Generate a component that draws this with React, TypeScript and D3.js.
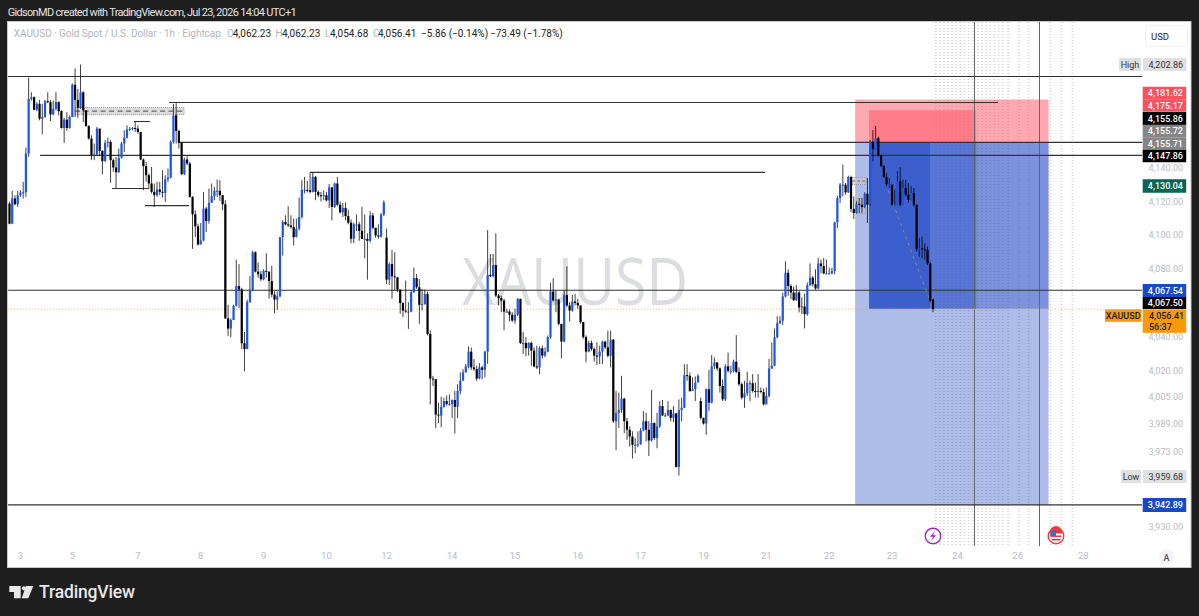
// XAUUSD 1h chart, drawn as JSX with d3 scales
import React from 'react';
import * as d3 from 'd3';

const closes = [
  4107,4122,4118.6,4124,4125.6,4125.8,4149,4182,4183,4175.4,
  4179,4170,4171,4180.6,4180,4172.6,4176,4180,4174.6,4164.4,
  4169.4,4164.4,4171,4190.6,4181.4,4176.6,4186,4175,4165.6,4158,
  4148,4148.4,4164,4150.6,4144.4,4155.4,4156,4145,4140.6,4137.8,
  4146.4,4155,4158.6,4163.4,4163.8,4164.4,4164,4162,4145.4,4141.4,
  4136,4131,4126,4124,4127.4,4126,4125.4,4133.6,4134.6,4156,
  4172,4162.6,4155.4,4136.6,4145.4,4143,4123,4112.6,4105.4,4094.6,
  4097,4116,4108.6,4119.4,4123.4,4126.6,4126.6,4124,4118.6,4051,
  4045,4050,4058.4,4070,4068,4036.4,4033,4060.6,4067.4,4090,
  4078.6,4077,4074,4079,4078.6,4073,4065,4062,4064,4099,
  4108,4106.6,4106,4105,4099,4104,4111,4127.2,4127.2,4127,
  4126,4135,4126,4124,4123.6,4124,4120.9,4128.7,4117,4131,
  4118.3,4113.8,4116.4,4111.5,4107.6,4098,4106.6,4106.6,4102.7,4098,
  4098,4096.8,4111.9,4104.6,4100,4099.3,4112.5,4119.7,4073.8,4083,
  4075.8,4075.2,4068,4060,4055.6,4055,4055,4066.4,4074.8,4069.3,
  4059,4059.5,4065.4,4041.9,4015.8,4015.4,3994.9,3994.3,3999.4,4002.7,
  4001,4001,4003.3,3999.4,4008.6,4014.5,4019.4,4022.9,4031.5,4022.3,
  4021.3,4015.8,4022.3,4020.9,4031.5,4076.6,4075.8,4082.5,4064.4,4062.9,
  4061.5,4055,4055,4053.1,4049.7,4053.1,4062.5,4036.6,4036.6,4033.5,
  4036.6,4032.1,4022.9,4022.3,4033.5,4029.2,4031.5,4040,4066.8,4061.5,
  4062.1,4047.8,4037.4,4064.8,4058.6,4055.6,4060.9,4060.1,4058.6,4048.8,
  4040,4031.5,4036.6,4033.1,4029.2,4028.8,4031.5,4037.3,4034,4029.1,
  4038.5,3991,3995.9,3997.5,4004.1,3991,3986.1,3982.2,3977.4,3977.4,
  3977.7,3985.7,3991,3986.1,3979.9,3990,3981.3,3988.1,3999.8,3994.4,
  3994.4,3997.5,3993,3995.5,3964.7,3997.5,3998.8,4017.8,4017.4,4008.6,
  4009.6,4013.5,4017.4,3993,3989.7,4009.6,4001.8,4022.9,4025.2,4021.7,
  4011.5,4003.7,4022.9,4020.3,4020.3,4025.6,4019.7,4012.5,4004.7,4007.2,
  4013.1,4013.1,4008.6,4008,4008.6,4008,4000.8,4005.7,4021.7,4023.3,
  4039.9,4048.2,4049.6,4063.9,4077.9,4070.1,4066.2,4061.7,4066.2,4057.4,
  4058,4053.5,4070.5,4075,4071.1,4068.6,4083.4,4081.8,4077.5,4077.5,
  4077.5,4078.9,4107.8,4122.3,4130.3,4130.3,4125.7,4134.9,4115.8,4113.4,
  4118.9,4118.3,4116.9,4124.9,4118.3,4156.2,4151.6,4158.2,4147.8,4141.7,
  4134.9,4130.3,4130.3,4118.3,4118.3,4132.3,4118.3,4128.3,4124.3,4121.3,
  4125.3,4118.3,4091.8,4092.4,4091.8,4091.4,4083.5,4061.5,4056.41,
];

const highs = [
  4120,4126.6,4124,4126.6,4127,4132,4152.6,4195,4186,4183.4,
  4180,4181.4,4179,4181.4,4186,4181.4,4181,4186,4180.6,4175,
  4170.6,4174,4172,4191.4,4200.6,4188,4202.86,4186.6,4175,4166,
  4160,4155,4165,4164,4151,4157,4158.6,4157,4146,4147,
  4152,4156,4163,4166,4165,4165,4168.4,4166,4162,4146,
  4144,4137,4141,4131,4132,4132,4139,4136,4140,4157,
  4179,4179.4,4163.4,4152,4146.6,4147.4,4144,4123.4,4115,4107,
  4107.4,4126,4117,4128,4131,4129,4133.4,4133,4124,4121,
  4059,4051,4059,4085.6,4083,4069,4043,4062,4076,4091,
  4090.6,4084,4079,4080,4089.4,4077,4082,4067,4067,4099,
  4109,4112,4117.4,4112,4110,4110,4122.6,4133,4135,4132.6,
  4137.4,4137.4,4135.4,4127,4126,4126.8,4126,4130.7,4129,4131.5,
  4135,4120.3,4119.3,4119.7,4115.4,4109.5,4107.6,4112.5,4108,4117,
  4112.5,4101.3,4114.4,4113.4,4104.6,4106.6,4113.4,4120.9,4104,4084,
  4091.5,4090,4075.2,4067.4,4060.5,4073.3,4060.5,4067.4,4081,4077.2,
  4074.2,4068.4,4068,4066.8,4043.9,4017.4,4015.4,4001.7,4005.2,4004.7,
  4006,4006.6,4003.7,4008.6,4012.5,4019.4,4021.3,4024.3,4034.6,4034,
  4027.2,4023.3,4024.8,4023.3,4032,4103.2,4089,4089,4101.3,4065.4,
  4064.4,4062.5,4056.6,4056.2,4054.6,4056.6,4062.9,4062.5,4042.9,4040,
  4037,4037.4,4034,4035,4034.6,4035,4034,4041,4071.9,4074.6,
  4067.4,4062.5,4046.8,4067.4,4081.7,4060.5,4064.8,4065.4,4062.5,4058.6,
  4048.8,4041,4038,4038,4034,4037,4035,4037.9,4037.9,4043.8,
  4043.8,4038.9,4008.6,4007.6,4017.4,4004.7,3993,3988.1,3985.2,3981.3,
  3985.2,3987.1,3996.9,3995.9,3991,4009.2,3990.4,3995.9,4002.7,4003.3,
  3995.9,4002.7,3997.9,3999.8,3995.9,4003.7,4004.7,4024.2,4024.2,4019.4,
  4016.4,4017,4018.4,4004.7,3993,4010,4020.9,4029.5,4028.1,4025.2,
  4022.3,4015.4,4024.2,4031,4023.3,4026.8,4041.2,4022.3,4013.5,4014.5,
  4019.7,4014.5,4018.4,4013.5,4018.4,4010.6,4010,4010.6,4027.2,4036.9,
  4045.1,4052.2,4052.2,4066.2,4084.6,4079.9,4071.1,4069.7,4070.5,4067.2,
  4063.3,4065.6,4072.1,4083.4,4076,4079.9,4086.7,4085.7,4086.7,4085.7,
  4080.9,4080.9,4108.2,4123.7,4131.3,4142.3,4131.3,4135.7,4135.7,4123.3,
  4120.3,4122.3,4122.3,4125.7,4134.3,4157.2,4163.2,4165.6,4159.2,4148.2,
  4141.3,4137.3,4134.3,4130.3,4127.3,4138.3,4140.9,4133.3,4133.3,4131.3,
  4129.3,4128.3,4118.3,4098.4,4099.4,4095.4,4093.4,4084.5,4062.23,
];

const lows = [
  4106.6,4107,4118,4117,4123,4122,4123,4147,4181,4175,
  4174.6,4169,4160.6,4170.6,4179.4,4168.6,4172,4175,4172,4164,
  4155.4,4162.6,4164,4172,4171,4170.6,4176,4168,4165,4157.4,
  4145,4145,4148,4148,4136.6,4144,4152.6,4131.4,4138,4128,
  4137.4,4146,4150,4158,4162.6,4163,4162,4161,4145,4127,
  4132,4128,4125,4117,4123,4124,4122.6,4120,4132,4134,
  4155,4155,4152,4136,4136,4142,4122.6,4092,4099,4094,
  4096,4096.6,4102,4107,4120,4121,4123,4120.6,4115,4050.6,
  4040.6,4040,4050,4058,4057,4033,4020,4033,4060,4067,
  4078,4075,4073,4073.4,4075,4062.6,4063.4,4054,4056,4063.4,
  4088,4106,4105,4104,4094,4099,4103,4110,4125,4125.6,
  4125,4125.6,4121,4122.8,4120.3,4121,4120.3,4116.4,4109,4116.4,
  4117.4,4113,4111,4109,4106.6,4095.4,4095.4,4102.7,4096.8,4097.8,
  4086.4,4073.8,4095.8,4103.6,4098.7,4098,4098.7,4111.5,4071.3,4070.7,
  4062.5,4067.4,4066.4,4053.7,4051.7,4054.2,4044.8,4054.6,4066,4068.4,
  4047.8,4055.6,4059,4041,4000.7,4011.5,3987,3990,3987.6,3998.8,
  4000,4000,3992.9,3984,3992.9,4006.6,4014.5,4019.4,4021.7,4020.9,
  4020.3,4014.5,4015.4,4015.4,4016.4,4024.3,4075.2,4075.2,4063.5,4058.6,
  4054.6,4043.9,4054.2,4049.2,4048.8,4047.8,4052.3,4036,4030.1,4028.8,
  4029.2,4023.3,4022.3,4021.3,4018.4,4027.6,4028.2,4031.1,4039,4060.9,
  4054.6,4046.8,4027.6,4037,4057.6,4049.2,4055,4058.6,4056.6,4047.8,
  4039,4025.2,4031.1,4032.1,4025.6,4023.7,4024.2,4024.2,4033,4028.1,
  4022.3,3990,3974.4,3987.1,3995.9,3984.2,3980.3,3976.4,3969.5,3972.5,
  3976,3977.4,3985.2,3979.3,3970.9,3979.3,3980.3,3975.4,3987.1,3994,
  3993.6,3994,3991,3990.4,3964.3,3959.68,3991,3998.8,4014.5,4008,
  4008.6,4002.7,4013.5,3992,3989.1,3983.2,3996.9,4001.4,4021.3,4020.3,
  4007.6,4002.7,4002.7,4019.3,4018.4,4019.3,4018.9,4011.5,4003.7,3998.8,
  4005.7,4002.7,4007.6,4004.7,4004.7,4007.2,4000.2,4000.8,4004.7,4021.3,
  4022.9,4039.3,4047.7,4047.1,4063.3,4064.3,4062.3,4061.3,4061.3,4054.5,
  4053.5,4045.1,4052.5,4070.1,4069.7,4067.8,4068.2,4077.5,4077,4077,
  4077,4077,4077,4104.4,4119.3,4123.3,4124.3,4125.3,4113.8,4109.8,
  4113,4113.4,4113.4,4116.3,4107.4,4117.7,4144.3,4151.2,4147.2,4140.9,
  4134.3,4129.3,4128.3,4117.7,4117.3,4118.3,4117.3,4118.1,4123.3,4119.7,
  4120.9,4117.3,4090.4,4087.4,4086.4,4085.4,4082.5,4060.5,4054.68,
];

// candles whose open is not the previous close (session gaps, first and live bar)
const gapOpens: Record<number, number> = { 0: 4119, 138: 4098.7, 253: 4002.7, 338: 4062.23 };

const dayLabels = ['3', '5', '7', '8', '9', '10', '12', '14', '15', '16', '17', '19', '21', '22', '23', '24', '26', '28'];
const dayIndex = [4, 23, 47, 70, 93, 116, 138, 162, 185, 208, 231, 254, 277, 300, 323, 347, 369, 393];

const axisTicks = [4140, 4120, 4100, 4080, 4040, 4020, 4005, 3989, 3973, 3930];

// drawn levels: price, from bar, to bar
const levels: [number, number, number][] = [
  [4195.6, -0.5, 414.5],
  [4179.8, 58.4, 361.8],
  [4155.72, 62.4, 414.5],
  [4147.86, 11.2, 414.5],
  [4137.7, 110, 276.5],
  [4067.54, -0.5, 414.5],
  [3942.89, -0.5, 414.5],
  [4168.3, 45.6, 51.4],
  [4128, 37.5, 51],
  [4117.8, 49.6, 65.7],
];

// bars of the dotted future grid
const dotBars = [339, 340.5, 342, 343.5, 345, 346.5, 348, 349.5, 351, 352.5, 354.5, 356, 357.5, 359, 360.5, 362, 363.5, 365.5, 369.5, 373, 381, 385, 389];
const verticalBars = [353.2, 377];

// price tags on the axis: label, fill, text colour, centre y, height
const tags: [string, string, string, number, number][] = [
  ['4,181.62', '#f7525f', '#fff', 93, 12.5],
  ['4,175.17', '#f7525f', '#fff', 105.5, 12.5],
  ['4,155.86', '#000', '#fff', 118.5, 13],
  ['4,155.72', '#868686', '#fff', 131, 12.5],
  ['4,155.71', '#868686', '#fff', 143.5, 12.5],
  ['4,147.86', '#000', '#fff', 156, 12.5],
  ['4,130.04', '#056656', '#fff', 186, 13.5],
  ['4,067.54', '#1848cc', '#fff', 290.5, 13],
  ['4,067.50', '#000', '#fff', 303, 12],
  ['3,942.89', '#1848cc', '#fff', 505, 14],
];

const legendParts: [string, string][] = [
  ['O', '#b2b5be'], ['4,062.23', '#222'],
  ['H', '#b2b5be'], ['4,062.23', '#222'],
  ['L', '#b2b5be'], ['4,054.68', '#222'],
  ['C', '#b2b5be'], ['4,056.41', '#222'],
];
const legendX = [227, 232.7, 275.5, 282, 325, 330, 373, 378];

const font = 'Roboto, sans-serif';

const x = d3.scaleLinear().domain([0, 338]).range([9.5, 933]);
const y = d3.scaleLog().domain([3930, 4140]).range([527.5, 168.5]);

function openOf(i: number) {
  return gapOpens[i] !== undefined ? gapOpens[i] : closes[i - 1];
}

const Band = ({ from, to, top, bottom, fill }: { from: number; to: number; top: number; bottom: number; fill: string }) => (
  <rect x={x(from)} width={x(to) - x(from)} y={y(top)} height={y(bottom) - y(top)} fill={fill} />
);

export default function App() {
  const red = 'rgba(255,82,100,0.5)';
  const blue = 'rgba(41,80,200,0.38)';
  return (
    <svg width={1199} height={616} style={{ position: 'absolute', left: 0, top: 0, background: '#1e1e1e' }}>
      <rect x={7.5} y={21.5} width={1183.5} height={546} fill="#fff" stroke="#c8c8c8" />

      <text x={7.7} y={16} fontFamily={font} fontSize={11} fill="#e4e4e4" textLength={289}>
        GidsonMD created with TradingView.com, Jul 23, 2026 14:04 UTC+1
      </text>

      <text x={13.8} y={36.5} fontFamily={font} fontSize={10} fill="#b2b5be" textLength={207}>
        XAUUSD · Gold Spot / U.S. Dollar · 1h · Eightcap
      </text>
      {legendParts.map(([t, c], i) => (
        <text key={i} x={legendX[i]} y={36.5} fontFamily={font} fontSize={10} fill={c}>{t}</text>
      ))}
      <text x={421} y={36.5} fontFamily={font} fontSize={10} fill="#222">−5.86 (−0.14%)</text>
      <text x={490} y={36.5} fontFamily={font} fontSize={10} fill="#222">−73.49 (−1.78%)</text>

      <text x={462} y={305} fontFamily="'Open Sans', sans-serif" fontSize={66} fill="#dcdde0" textLength={226} lengthAdjust="spacingAndGlyphs">
        XAUUSD
      </text>

      {dotBars.map((b) => (
        <line key={b} x1={x(b)} x2={x(b)} y1={22} y2={546} stroke="#d4d4d4" strokeWidth={1.6} strokeDasharray="1 2" />
      ))}

      <Band from={309.5} to={380.3} top={4181.62} bottom={4155.71} fill={red} />
      <Band from={314.6} to={353.8} top={4175.17} bottom={4155.71} fill={red} />
      <Band from={309.5} to={380.3} top={4155.71} bottom={3942.89} fill={blue} />
      <Band from={314.6} to={380.3} top={4155.71} bottom={4056.7} fill={blue} />
      <Band from={314.6} to={353.8} top={4155.71} bottom={4056.7} fill="rgba(41,80,200,0.42)" />
      <Band from={314.6} to={336.9} top={4155.71} bottom={4056.7} fill="rgba(41,80,200,0.6)" />

      {verticalBars.map((b) => (
        <line key={b} x1={Math.floor(x(b)) + 0.5} x2={Math.floor(x(b)) + 0.5} y1={22} y2={546} stroke="#666" strokeWidth={1} />
      ))}

      <line x1={x(-0.5)} x2={x(401)} y1={y(4056.41)} y2={y(4056.41)} stroke="#ff9800" strokeOpacity={0.7} strokeWidth={1} strokeDasharray="1 2" />

      {levels.map(([p, a, b], i) => (
        <line key={i} x1={x(a)} x2={x(b)} y1={y(p)} y2={y(p)} stroke="#333" strokeWidth={1.1} />
      ))}

      {/* dotted order boxes */}
      <g stroke="#999" strokeWidth={1} strokeDasharray="1 1">
        <rect x={x(24)} y={y(4176.8)} width={x(63.9) - x(24)} height={y(4172.5) - y(4176.8)} fill="#dcdcdc" />
        <rect x={x(308.4)} y={y(4134.6)} width={x(313.5) - x(308.4)} height={y(4130.4) - y(4134.6)} fill="rgba(200,200,200,0.6)" />
        <rect x={x(309.9)} y={y(4122)} width={x(313.2) - x(309.9)} height={y(4113) - y(4122)} fill="rgba(200,200,200,0.5)" />
      </g>
      <line x1={x(24)} x2={x(63.9)} y1={y(4174.6)} y2={y(4174.6)} stroke="#666" strokeWidth={1.4} strokeDasharray="5 3.5" />
      <line x1={x(308.4)} x2={x(313.5)} y1={y(4132.5)} y2={y(4132.5)} stroke="#777" strokeWidth={1} strokeDasharray="3 2" />
      <line x1={x(321.6)} x2={x(336.9)} y1={y(4126.8)} y2={y(4061.5)} stroke="#8a8a8a" strokeWidth={1} strokeDasharray="3 4" />

      {closes.map((c, i) => {
        const o = openOf(i);
        const top = y(Math.max(o, c));
        const bottom = y(Math.min(o, c));
        return (
          <g key={i}>
            <line x1={x(i)} x2={x(i)} y1={y(highs[i])} y2={y(lows[i])} stroke="#000" strokeOpacity={0.75} strokeWidth={1} />
            <rect x={x(i) - 1.1} y={top} width={2.2} height={Math.max(bottom - top, 1)} fill={c >= o ? '#1e55e6' : '#000'} />
          </g>
        );
      })}

      {/* price axis */}
      {axisTicks.map((t) => (
        <text key={t} x={1183} y={y(t) + 2.7} textAnchor="end" fontFamily={font} fontSize={9} fill="#b8bbc2">
          {d3.format(',.2f')(t)}
        </text>
      ))}
      {tags.map(([label, fill, color, cy, h]) => (
        <g key={label + cy}>
          <rect x={1142.7} y={cy - h / 2} width={43.5} height={h} fill={fill} />
          <text x={1183} y={cy + 3.2} textAnchor="end" fontFamily={font} fontSize={9} fontWeight={500} fill={color}>{label}</text>
        </g>
      ))}

      <rect x={1142.7} y={309.3} width={43.5} height={23.5} fill="#f89a0c" />
      <text x={1149} y={319} fontFamily={font} fontSize={9} fontWeight={500} fill="#1a1a1a">4,056.41</text>
      <text x={1149} y={329.5} fontFamily={font} fontSize={9} fontWeight={500} fill="#1a1a1a">56:37</text>
      <rect x={1105} y={309.3} width={36.5} height={12.5} fill="#f89a0c" />
      <text x={1123.2} y={318.8} textAnchor="middle" fontFamily={font} fontSize={9} fontWeight={500} fill="#1a1a1a">XAUUSD</text>

      <rect x={1119} y={58} width={22} height={13} fill="#e0e0e0" />
      <text x={1130} y={67.5} textAnchor="middle" fontFamily={font} fontSize={9} fill="#333">High</text>
      <rect x={1143} y={58} width={43.5} height={13} fill="#e0e0e0" />
      <text x={1183} y={67.5} textAnchor="end" fontFamily={font} fontSize={9} fill="#333">4,202.86</text>
      <rect x={1121} y={470} width={20} height={13} fill="#e0e0e0" />
      <text x={1131} y={479.8} textAnchor="middle" fontFamily={font} fontSize={9} fill="#333">Low</text>
      <rect x={1143} y={470} width={43.5} height={13} fill="#e0e0e0" />
      <text x={1183} y={479.8} textAnchor="end" fontFamily={font} fontSize={9} fill="#333">3,959.68</text>

      <rect x={1145.5} y={25.5} width={42} height={21} rx={3} fill="#fff" stroke="#eeeeee" />
      <text x={1160} y={39.5} textAnchor="middle" fontFamily={font} fontSize={9.5} fill="#222">USD</text>

      {/* time axis */}
      {dayLabels.map((d, i) => (
        <text key={d} x={x(dayIndex[i])} y={559} textAnchor="middle" fontFamily={font} fontSize={9.5} fill="#b8bbc2">{d}</text>
      ))}
      <circle cx={1166.5} cy={557} r={7.5} fill="#f4f4f4" />
      <text x={1166.5} y={560.5} textAnchor="middle" fontFamily={font} fontSize={9} fontWeight={500} fill="#555">A</text>

      {/* event markers */}
      <circle cx={933} cy={536} r={7.8} fill="#fff" stroke="#9c27b0" strokeWidth={1.4} />
      <path d="M935 531 L930 536.8 L933 536.8 L931 541 L936 535.2 L933 535.2 Z" fill="#9c27b0" />
      <circle cx={1056} cy={536} r={7.8} fill="#fff" stroke="#f23645" strokeWidth={1.4} />
      <path d="M1050 532 A6 6 0 0 1 1062 532 L1062 533.5 L1050 533.5 Z" fill="#f23645" />
      <path d="M1050.5 535.5 H1061.5 V537 H1050.5 Z M1051.5 539 H1060.5 V540.5 H1051.5 Z" fill="#f23645" />
      <path d="M1050.2 534 A6 6 0 0 1 1056 530 V536 H1050 Z" fill="#2a76c9" />

      {/* TradingView logo */}
      <path d="M9.3 586 H20.7 V598.3 H14 V592 H9.3 Z" fill="#e8e8e8" />
      <circle cx={24} cy={588.3} r={2.1} fill="#e8e8e8" />
      <path d="M26 586 H33.3 L28.3 598.3 H21.7 Z" fill="#e8e8e8" />
      <text x={39} y={598} fontFamily={font} fontSize={17.5} fontWeight={500} fill="#e8e8e8" textLength={96}>TradingView</text>
    </svg>
  );
}
